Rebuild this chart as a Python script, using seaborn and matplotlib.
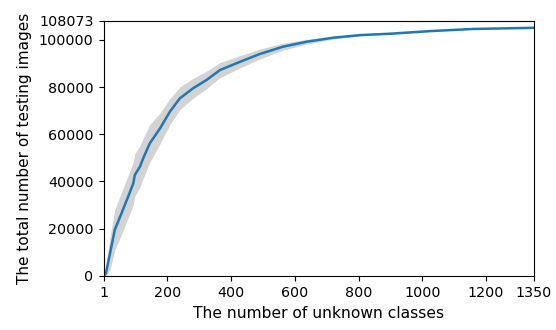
import matplotlib
matplotlib.use("Agg")
import matplotlib.pyplot as plt
import seaborn as sns
import pandas as pd

# Data
num_classes = [1, 7, 20, 35, 56, 77, 93, 98, 114, 124, 145, 177, 208, 239, 281,
               323, 365, 428, 490, 563, 637, 720, 804, 900, 1024, 1158, 1350]
mean_images = [0, 1100, 9600, 19500, 26500, 33600, 39200, 42800, 46300, 49800,
               56200, 62500, 69600, 75200, 79500, 83000, 87200, 90700, 94000,
               97100, 99200, 100900, 102000, 102600, 103700, 104600, 105100]
band_halfwidth = [0, 3000, 7000, 8500, 9000, 9000, 9000, 9000, 8800, 8500,
                  8000, 6500, 5500, 4800, 4200, 3700, 3200, 2600, 2100,
                  1500, 1000, 600, 300, 200, 100, 50, 0]

x_ticks = [1, 200, 400, 600, 800, 1000, 1200, 1350]
y_ticks = [0, 20000, 40000, 60000, 80000, 100000, 108073]

df = pd.DataFrame({"classes": num_classes, "images": mean_images,
                   "half": band_halfwidth})
df["lower"] = (df["images"] - df["half"]).clip(lower=0)
df["upper"] = df["images"] + df["half"]

fig = plt.figure(figsize=(5.56, 3.30), dpi=100)
ax = fig.add_axes([0.187, 0.164, 0.773, 0.773])

ax.fill_between(df["classes"], df["lower"], df["upper"], color="lightgray",
                linewidth=0, zorder=1)
sns.lineplot(data=df, x="classes", y="images", ax=ax, color="#1f77b4",
             linewidth=1.8, zorder=2)

ax.set_xlim(1, 1350)
ax.set_ylim(0, 108073)
ax.set_xticks(x_ticks)
ax.set_xticklabels([str(t) for t in x_ticks])
ax.set_yticks(y_ticks)
ax.set_yticklabels([str(t) for t in y_ticks])
ax.tick_params(labelsize=10.3, pad=4)
ax.set_xlabel("The number of unknown classes", fontsize=11.2, labelpad=4)
ax.set_ylabel("The total number of testing images", fontsize=11, labelpad=5)

fig.savefig("out.png", dpi=100)
